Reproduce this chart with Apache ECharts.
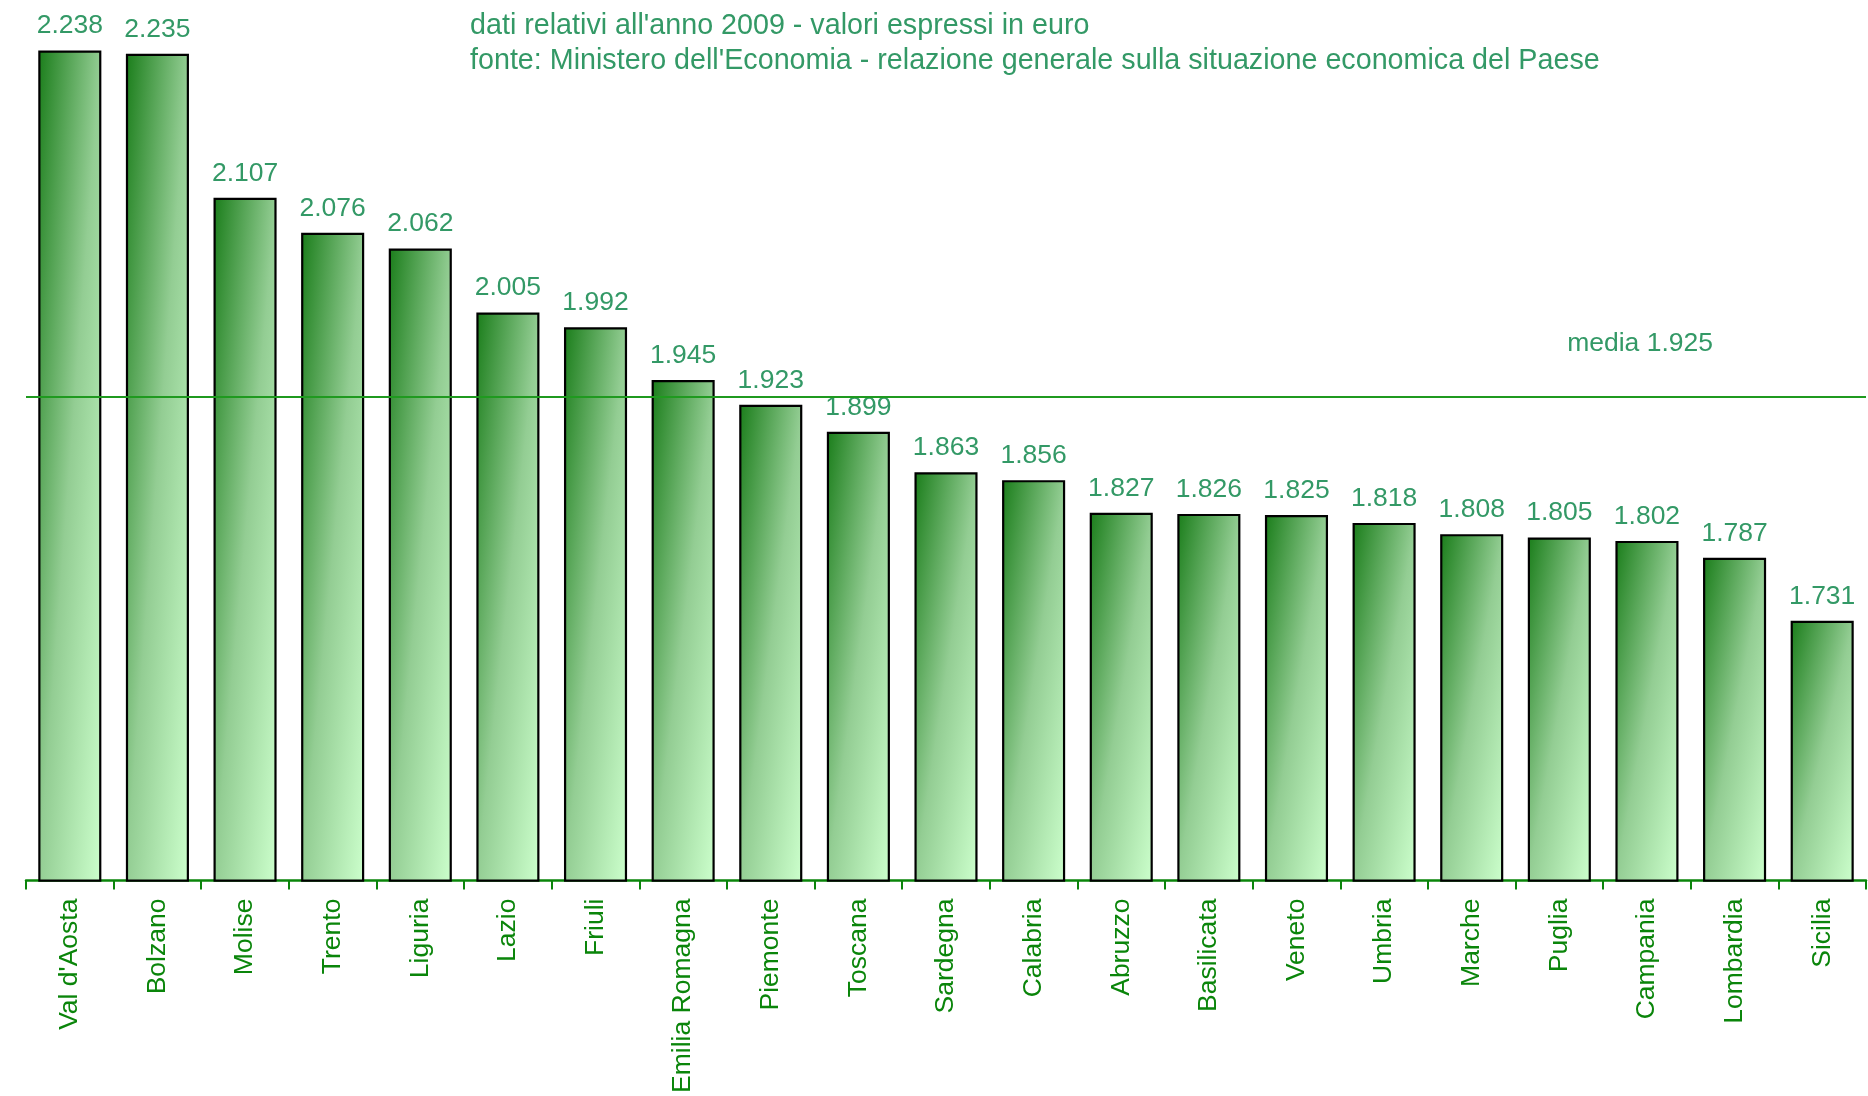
<!DOCTYPE html>
<html>
<head>
<meta charset="utf-8">
<script src="https://cdn.jsdelivr.net/npm/echarts@6/dist/echarts.min.js"></script>
<style>
  html, body { margin: 0; padding: 0; background: #ffffff; }
  #chart { width: 1868px; height: 1096px; }
</style>
</head>
<body>
<div id="chart"></div>
<script>
// Spesa per regione (anno 2009, euro)
const regions = ["Val d'Aosta", "Bolzano", "Molise", "Trento", "Liguria", "Lazio", "Friuli",
  "Emilia Romagna", "Piemonte", "Toscana", "Sardegna", "Calabria", "Abruzzo", "Basilicata",
  "Veneto", "Umbria", "Marche", "Puglia", "Campania", "Lombardia", "Sicilia"];
const spesa = [2.238, 2.235, 2.107, 2.076, 2.062, 2.005, 1.992, 1.945, 1.923, 1.899, 1.863,
  1.856, 1.827, 1.826, 1.825, 1.818, 1.808, 1.805, 1.802, 1.787, 1.731];
const media = 1.925;
const subtitleLines = [
  "dati relativi all'anno 2009 - valori espressi in euro",
  "fonte: Ministero dell'Economia - relazione generale sulla situazione economica del Paese"
];
const yRange = [1.5, 2.25];

const FONT = '"Liberation Sans", Arial, Helvetica, sans-serif';
const TEXT_GREEN = '#339966';
const AXIS_GREEN = '#0a850a';
const BAR_FRACTION = 0.72;
const barStops = [
  { offset: 0, color: '#1a7d1a' },
  { offset: 0.5, color: '#93cd93' },
  { offset: 1, color: '#ccffcc' }
];

const chart = echarts.init(document.getElementById('chart'), null, { renderer: 'canvas' });

const option = {
  animation: false,
  backgroundColor: '#ffffff',
  title: {
    text: subtitleLines.join('\n'),
    left: 470,
    top: 8,
    padding: 0,
    textStyle: {
      fontFamily: FONT,
      fontSize: 28.7,
      fontWeight: 'normal',
      color: TEXT_GREEN,
      lineHeight: 35.7
    }
  },
  grid: { left: 26, right: 2, top: 37, bottom: 210, containLabel: false },
  xAxis: {
    type: 'category',
    data: regions,
    boundaryGap: true,
    axisLine: { show: true, lineStyle: { color: AXIS_GREEN, width: 2.5 } },
    axisTick: { show: true, length: 9, lineStyle: { color: AXIS_GREEN, width: 2 } },
    axisLabel: {
      rotate: 90,
      interval: 0,
      margin: 18,
      fontFamily: FONT,
      fontSize: 26.5,
      color: AXIS_GREEN
    }
  },
  yAxis: {
    type: 'value',
    min: yRange[0],
    max: yRange[1],
    show: false,
    splitLine: { show: false }
  },
  series: [{
    type: 'bar',
    data: spesa,
    barWidth: (BAR_FRACTION * 100) + '%',
    itemStyle: { color: '#5fae5f', borderColor: '#000000', borderWidth: 2.2 },
    label: {
      show: true,
      position: 'top',
      distance: 11,
      fontFamily: FONT,
      fontSize: 26.5,
      color: TEXT_GREEN,
      formatter: p => p.value.toFixed(3)
    },
    markLine: {
      silent: true,
      symbol: ['none', 'none'],
      lineStyle: { color: '#1f9a1f', width: 2, type: 'solid' },
      label: {
        show: true,
        position: 'insideEndTop',
        distance: 40,
        padding: [0, 113, 0, 0],
        fontFamily: FONT,
        fontSize: 26.5,
        color: TEXT_GREEN,
        formatter: 'media ' + media.toFixed(3)
      },
      data: [{ yAxis: media }]
    }
  }]
};

chart.setOption(option);

// Each bar is shaded along its own box: dark at the top-left corner, light at the
// bottom-right, with bands running parallel to the box's anti-diagonal.
const yBase = chart.convertToPixel({ yAxisIndex: 0 }, yRange[0]);
const step = chart.convertToPixel({ xAxisIndex: 0 }, 1) - chart.convertToPixel({ xAxisIndex: 0 }, 0);
const bw = step * BAR_FRACTION;
const shaded = spesa.map(v => {
  const h = yBase - chart.convertToPixel({ yAxisIndex: 0 }, v);
  const d = h * h + bw * bw;
  return {
    value: v,
    itemStyle: {
      color: new echarts.graphic.LinearGradient(0, 0, 2 * h * h / d, 2 * bw * bw / d, barStops)
    }
  };
});
chart.setOption({ series: [{ data: shaded }] });
</script>
</body>
</html>
